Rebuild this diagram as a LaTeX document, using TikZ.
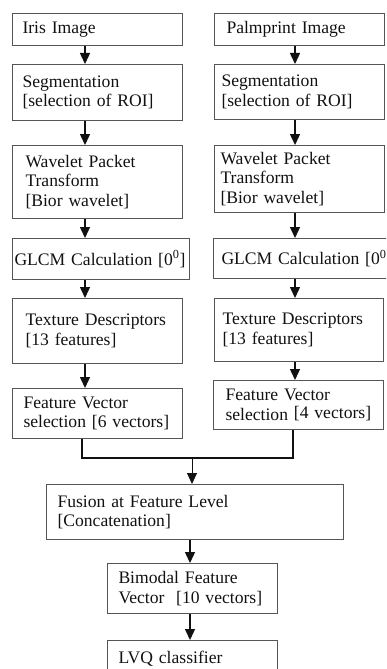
\documentclass[tikz,border=0pt]{standalone}
\usepackage{fontspec}
\setmainfont{Liberation Serif}
\usetikzlibrary{arrows.meta,calc}
\definecolor{flowInk}{HTML}{111111}
\definecolor{flowEdge}{HTML}{555555}
\tikzset{
  stagebox/.style={draw=flowEdge, line width=1pt, anchor=north west, align=left,
                   font=\fontsize{17.6}{19.5}\selectfont, text=flowInk, inner ysep=0pt},
  flowarrow/.style={-{Triangle[width=10pt,length=11pt]}, line width=1.4pt, draw=flowInk},
  thinarrow/.style={-{Triangle[width=10pt,length=11pt]}, line width=0.8pt, draw=flowInk},
  joinline/.style={line width=1.8pt, draw=flowInk}
}
\begin{document}
\begin{tikzpicture}[x=1pt, y=-1pt]
\useasboundingbox (0,0) rectangle (386,669);
\clip (0,0) rectangle (386,669);

% iris column
\node[stagebox, text width=150pt, inner xsep=10pt, minimum height=32pt] (iris) at (12,13) {Iris Image};
\node[stagebox, text width=150pt, inner xsep=10pt, minimum height=56pt] (lseg) at (12,64) {Segmentation\\{}[selection of ROI]};
\node[stagebox, text width=144pt, inner xsep=13pt, minimum height=73pt] (lwpt) at (12,145) {Wavelet Packet\\Transform\\{}[Bior wavelet]};
\node[stagebox, text width=173pt, inner xsep=2pt, minimum height=41pt] (lglcm) at (12,238) {GLCM Calculation [0\textsuperscript{0}]};
\node[stagebox, text width=144pt, inner xsep=13pt, minimum height=65pt] (ltex) at (12,298) {Texture Descriptors\\{}[13 features]};
\node[stagebox, text width=148pt, inner xsep=11pt, minimum height=50pt] (lfv) at (12,388) {Feature Vector\\selection [6 vectors]};

% palmprint column
\node[stagebox, text width=146pt, inner xsep=12pt, minimum height=32pt] (palm) at (214,13) {Palmprint Image};
\node[stagebox, text width=156pt, inner xsep=7pt, minimum height=55pt] (rseg) at (214,64) {Segmentation\\{}[selection of ROI]};
\node[stagebox, text width=158pt, inner xsep=6pt, minimum height=67pt] (rwpt) at (214,145) {Wavelet Packet\\Transform\\{}[Bior wavelet]};
\node[stagebox, text width=174pt, inner xsep=8pt, minimum height=40pt] (rglcm) at (213,238) {GLCM Calculation [0\textsuperscript{0}]};
\node[stagebox, text width=153pt, inner xsep=8pt, minimum height=63pt] (rtex) at (214,298) {Texture Descriptors\\{}[13 features]};
\node[stagebox, text width=146pt, inner xsep=12pt, minimum height=49pt] (rfv) at (213,380) {Feature Vector\\\mbox{selection \raisebox{2pt}{[4 vectors]}}};

% fused part
\node[stagebox, text width=275pt, inner xsep=11pt, minimum height=55pt] (fusion) at (46,484) {Fusion at Feature Level\\{}[Concatenation]};
\node[stagebox, text width=148pt, inner xsep=11pt, minimum height=50pt] (bimodal) at (107,563) {Bimodal Feature\\Vector~ [10 vectors]};
\node[stagebox, text width=148pt, inner xsep=11pt, inner ysep=11pt, text height=12pt, text depth=30pt] (lvq) at (107,640) {LVQ classifier};

\coordinate (lcol) at (85,0);
\coordinate (rcol) at (295,0);
\coordinate (ljoin) at (82,458);
\coordinate (rjoin) at (293,458);
\coordinate (fuse) at (192,458);
\coordinate (mcol) at (190,0);

\draw[flowarrow] (iris.south -| lcol) -- (lseg.north -| lcol);
\draw[flowarrow] (lseg.south -| lcol) -- (lwpt.north -| lcol);
\draw[flowarrow] (lwpt.south -| lcol) -- (lglcm.north -| lcol);
\draw[flowarrow] (lglcm.south -| lcol) -- (ltex.north -| lcol);
\draw[flowarrow] (ltex.south -| lcol) -- (lfv.north -| lcol);

\draw[flowarrow] (palm.south -| rcol) -- (rseg.north -| rcol);
\draw[flowarrow] (rseg.south -| rcol) -- (rwpt.north -| rcol);
\draw[flowarrow] (rwpt.south -| rcol) -- (rglcm.north -| rcol);
\draw[flowarrow] (rglcm.south -| rcol) -- (rtex.north -| rcol);
\draw[flowarrow] (rtex.south -| rcol) -- (rfv.north -| rcol);

% joining both vectors
\draw[joinline] (lfv.south -| ljoin) -- (ljoin) -- (rjoin) -- (rfv.south -| rjoin);
\draw[thinarrow] (fuse) -- (fusion.north -| fuse);

\draw[flowarrow] (fusion.south -| mcol) -- (bimodal.north -| mcol);
\draw[flowarrow] (bimodal.south -| mcol) -- (lvq.north -| mcol);

\end{tikzpicture}
\end{document}
